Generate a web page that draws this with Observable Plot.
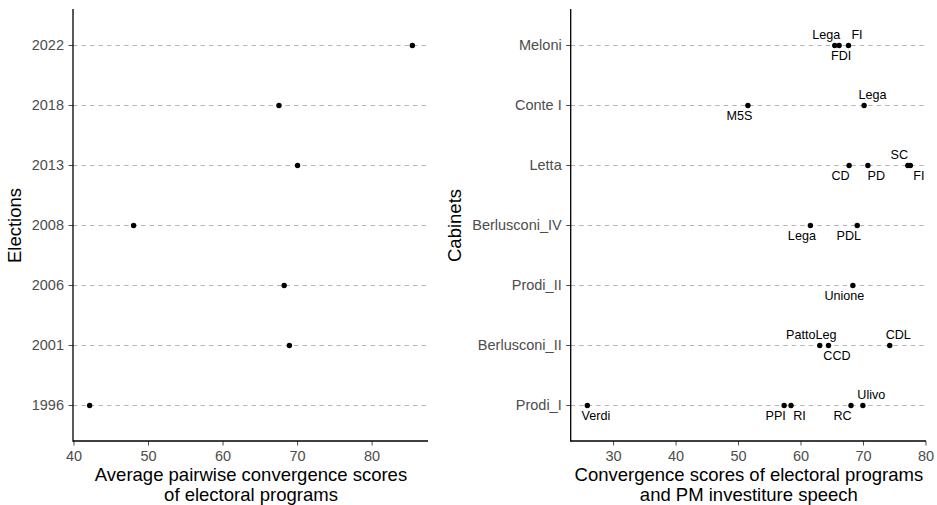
<!DOCTYPE html>
<html><head><meta charset="utf-8">
<script src="https://cdn.jsdelivr.net/npm/d3@7"></script>
<script src="https://cdn.jsdelivr.net/npm/@observablehq/plot@0.6"></script>
<style>
html,body{margin:0;padding:0;background:#fff;}
#wrap{position:relative;width:937px;height:505px;overflow:hidden;}
#left{position:absolute;left:0;top:0;}
#right{position:absolute;left:440px;top:0;}
</style></head>
<body><div id="wrap"><div id="left"></div><div id="right"></div></div>
<script>
// ---- Data ----
const elections = ["1996", "2001", "2006", "2008", "2013", "2018", "2022"];
const electionScores = [42.1, 68.9, 68.2, 48.0, 70.0, 67.5, 85.4];

const cabinets = ["Prodi_I", "Berlusconi_II", "Prodi_II", "Berlusconi_IV", "Letta", "Conte I", "Meloni"];
const partyCabinet = ["Meloni", "Meloni", "Meloni", "Conte I", "Conte I", "Letta", "Letta", "Letta", "Letta",
  "Berlusconi_IV", "Berlusconi_IV", "Prodi_II", "Berlusconi_II", "Berlusconi_II", "Berlusconi_II",
  "Prodi_I", "Prodi_I", "Prodi_I", "Prodi_I", "Prodi_I"];
const partyName = ["Lega", "FDI", "FI", "M5S", "Lega", "CD", "PD", "SC", "FI",
  "Lega", "PDL", "Unione", "PattoLeg", "CCD", "CDL",
  "Verdi", "PPI", "RI", "RC", "Ulivo"];
const partyScore = [65.4, 66.1, 67.6, 51.5, 70.1, 67.7, 70.7, 77.1, 77.5,
  61.5, 69.0, 68.3, 63.0, 64.4, 74.2,
  25.8, 57.3, 58.4, 68.0, 69.9];

const leftTitle = "Average pairwise convergence scores\nof electoral programs";
const rightTitle = "Convergence scores of electoral programs\nand PM investiture speech";

// ---- Label placement (repel-like sides) ----
const labelSide = ["tl", "b", "tr", "bl", "tr", "bl", "br", "tl", "br",
  "bl", "bl", "bl", "tl", "br", "tr",
  "br", "bl", "br", "bl", "tr"];

const FONT = "'Liberation Sans', Arial, Helvetica, sans-serif";
const electionRows = elections.map((e, i) => ({election: e, score: electionScores[i]}));
const partyRows = partyName.map((p, i) => ({cabinet: partyCabinet[i], party: p, score: partyScore[i], side: labelSide[i]}));

function pad(vals) {
  const [a, b] = d3.extent(vals);
  const e = (b - a) * 0.05;
  return [a - e, b + e];
}

function axisLines() {
  return (index, scales, values, dim) => {
    const {width, height, marginLeft, marginRight, marginTop, marginBottom} = dim;
    const g = d3.create("svg:g").attr("stroke", "#000").attr("stroke-width", 1.3);
    g.append("line").attr("x1", marginLeft).attr("x2", width - marginRight)
      .attr("y1", height - marginBottom).attr("y2", height - marginBottom);
    g.append("line").attr("x1", marginLeft).attr("x2", marginLeft)
      .attr("y1", marginTop).attr("y2", height - marginBottom + 0.65);
    return g.node();
  };
}

const common = {
  height: 505,
  marginTop: 9,
  marginBottom: 64,
  style: {fontFamily: FONT, fontSize: "14.5px", background: "white", overflow: "visible"}
};

const axisStyle = {color: "#4d4d4d", tickSize: 4.5, tickPadding: 5, label: null, fontSize: 14.5};

const left = Plot.plot({
  ...common,
  width: 440,
  marginLeft: 73,
  marginRight: 12,
  x: {domain: pad(electionScores), ticks: [40, 50, 60, 70, 80]},
  y: {type: "point", domain: elections.slice().reverse(), padding: 0.6},
  marks: [
    Plot.gridY({stroke: "#b5b5b5", strokeOpacity: 1, strokeDasharray: "4.5,4", strokeWidth: 1}),
    Plot.axisX({...axisStyle, ticks: [40, 50, 60, 70, 80]}),
    Plot.axisY(axisStyle),
    axisLines(),
    Plot.dot(electionRows, {x: "score", y: "election", r: 2.7, fill: "#000", stroke: "none"}),
    Plot.text([leftTitle], {frameAnchor: "bottom", dy: 43.5, lineAnchor: "middle", textAnchor: "middle", lineHeight: 1.08, fontSize: 18.5, fill: "#000"}),
    Plot.text(["Elections"], {frameAnchor: "left", dx: -58, rotate: -90, textAnchor: "middle", lineAnchor: "middle", fontSize: 18.5, fill: "#000"})
  ]
});
document.getElementById("left").appendChild(left);

const sides = {
  tl: {dx: -8.5, dy: -10.5}, tr: {dx: 8.5, dy: -10.5},
  bl: {dx: -8.5, dy: 10.5}, br: {dx: 8.5, dy: 10.5},
  b: {dx: 2, dy: 10.5}
};
const labelMarks = Object.entries(sides).map(([k, o]) =>
  Plot.text(partyRows.filter(d => d.side === k), {
    x: "score", y: "cabinet", text: "party", dx: o.dx, dy: o.dy,
    textAnchor: "middle", lineAnchor: "middle", fontSize: 12.6, fill: "#000"
  })
);

const right = Plot.plot({
  ...common,
  width: 497,
  marginLeft: 130.7,
  marginRight: 11,
  x: {domain: pad(partyScore), ticks: [30, 40, 50, 60, 70, 80]},
  y: {type: "point", domain: cabinets.slice().reverse(), padding: 0.6},
  marks: [
    Plot.gridY({stroke: "#b5b5b5", strokeOpacity: 1, strokeDasharray: "4.5,4", strokeWidth: 1}),
    Plot.axisX({...axisStyle, ticks: [30, 40, 50, 60, 70, 80]}),
    Plot.axisY(axisStyle),
    axisLines(),
    Plot.dot(partyRows, {x: "score", y: "cabinet", r: 2.7, fill: "#000", stroke: "none"}),
    ...labelMarks,
    Plot.text([rightTitle], {frameAnchor: "bottom", dy: 43.5, lineAnchor: "middle", textAnchor: "middle", lineHeight: 1.08, fontSize: 18.5, fill: "#000"}),
    Plot.text(["Cabinets"], {frameAnchor: "left", dx: -115.7, rotate: -90, textAnchor: "middle", lineAnchor: "middle", fontSize: 18.5, fill: "#000"})
  ]
});
document.getElementById("right").appendChild(right);
</script>
</body></html>
